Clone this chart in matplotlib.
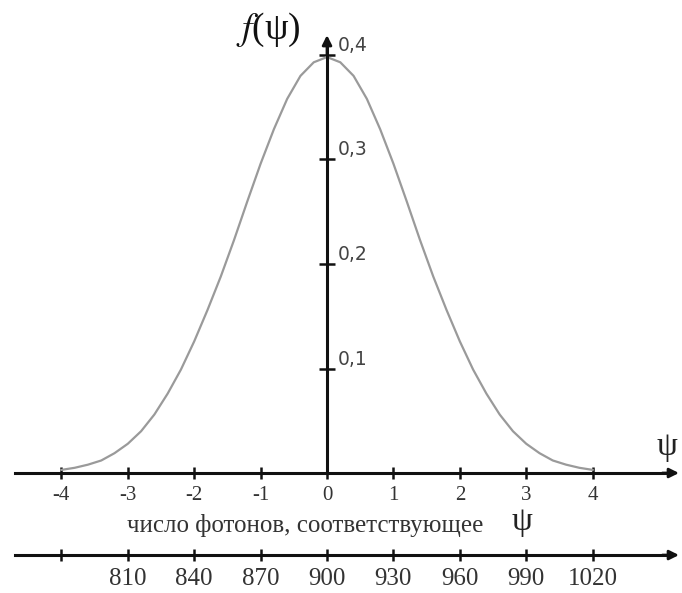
import matplotlib
matplotlib.use("Agg")
import matplotlib.pyplot as plt
from matplotlib.ticker import FixedLocator, FuncFormatter

# ---- data ----
psi = [-4.0, -3.8, -3.6, -3.4, -3.2, -3.0, -2.8, -2.6, -2.4, -2.2, -2.0,
       -1.8, -1.6, -1.4, -1.2, -1.0, -0.8, -0.6, -0.4, -0.2, 0.0,
       0.2, 0.4, 0.6, 0.8, 1.0, 1.2, 1.4, 1.6, 1.8, 2.0,
       2.2, 2.4, 2.6, 2.8, 3.0, 3.2, 3.4, 3.6, 3.8, 4.0]
f_psi = [0.003, 0.005, 0.008, 0.012, 0.019, 0.028, 0.040, 0.056, 0.076, 0.099, 0.126,
         0.156, 0.188, 0.223, 0.260, 0.296, 0.329, 0.358, 0.380, 0.393, 0.398,
         0.393, 0.380, 0.358, 0.329, 0.296, 0.260, 0.223, 0.188, 0.156, 0.126,
         0.099, 0.076, 0.056, 0.040, 0.028, 0.019, 0.012, 0.008, 0.005, 0.003]
x_ticks = [-4, -3, -2, -1, 0, 1, 2, 3, 4]
y_ticks = [0.1, 0.2, 0.3, 0.4]
photon_ticks = [780, 810, 840, 870, 900, 930, 960, 990, 1020]
photon_labels = ["", "810", "840", "870", "900", "930", "960", "990", "1020"]
caption = "число фотонов, соответствующее"

plt.rcParams['mathtext.fontset'] = 'stix'
serif = ['Liberation Serif', 'DejaVu Serif']

fig = plt.figure(figsize=(6.82, 5.93), dpi=100)
ax = fig.add_axes([0, 0, 1, 1])
ax.set_xlim(-4.925, 5.346)
ax.set_ylim(-0.1148, 0.4526)

ax.plot(psi, f_psi, color='#9a9a9a', lw=1.6, zorder=2)

# main axes via spines
for s in ['top', 'left']:
    ax.spines[s].set_visible(False)
ax.spines['bottom'].set_position(('data', 0))
ax.spines['right'].set_position(('data', 0))
ax.spines['bottom'].set_bounds(-4.70, 5.20)
ax.spines['right'].set_bounds(0, 0.41)
for s in ['bottom', 'right']:
    ax.spines[s].set_linewidth(2.2)
    ax.spines[s].set_color('#111111')
    ax.spines[s].set_zorder(3)

ax.xaxis.set_major_locator(FixedLocator(x_ticks))
ax.xaxis.set_major_formatter(FuncFormatter(lambda v, p: f"{v:g}"))
ax.tick_params(axis='x', direction='inout', length=9, width=1.8,
               color='#111111', labelsize=15, labelcolor='#333333', pad=5)
for lab in ax.get_xticklabels():
    lab.set_fontfamily(serif)

ax.yaxis.set_ticks_position('right')
ax.yaxis.set_major_locator(FixedLocator(y_ticks))
ax.yaxis.set_major_formatter(FuncFormatter(lambda v, p: f"{v:.1f}".replace('.', ',')))
ax.tick_params(axis='y', direction='inout', length=12, width=1.8,
               color='#111111', labelsize=13.5, labelcolor='#444444', pad=2)
for lab in ax.get_yticklabels():
    lab.set_va('bottom')

# arrowheads
ax.annotate('', xy=(5.30, 0), xytext=(5.05, 0),
            arrowprops=dict(arrowstyle='-|>', lw=2, color='#111111',
                            mutation_scale=14, shrinkA=0, shrinkB=0))
ax.annotate('', xy=(0, 0.419), xytext=(0, 0.400),
            arrowprops=dict(arrowstyle='-|>', lw=2, color='#111111',
                            mutation_scale=14, shrinkA=0, shrinkB=0))

# lower photon-count axis
sec = ax.secondary_xaxis(38 / 593, functions=(lambda x: 900 + 30 * x,
                                               lambda n: (n - 900) / 30))
sec.spines['bottom'].set_linewidth(2.2)
sec.spines['bottom'].set_color('#111111')
sec.spines['bottom'].set_bounds(759, 1056)
sec.xaxis.set_major_locator(FixedLocator(photon_ticks))
sec.xaxis.set_major_formatter(FuncFormatter(
    lambda v, p: photon_labels[photon_ticks.index(int(round(v)))]
    if int(round(v)) in photon_ticks else ""))
sec.tick_params(axis='x', direction='inout', length=9, width=1.8,
                color='#111111', labelsize=18, labelcolor='#333333', pad=5)
for lab in sec.get_xticklabels():
    lab.set_fontfamily(serif)
ax.annotate('', xy=(5.30, -0.0785), xytext=(5.05, -0.0785),
            arrowprops=dict(arrowstyle='-|>', lw=2, color='#111111',
                            mutation_scale=14, shrinkA=0, shrinkB=0))

# texts
ax.text(-0.33, -0.0505, caption, fontsize=18, family=serif, color='#333333',
        ha='center', va='center')
ax.text(2.94, -0.047, "ψ", fontsize=24, family=serif, color='#222222',
        ha='center', va='center')
ax.text(5.12, 0.025, "ψ", fontsize=24, family=serif, color='#222222',
        ha='center', va='center')
ax.text(-0.89, 0.424, r"$f$(ψ)", fontsize=27, family=serif, color='#111111',
        ha='center', va='center')

fig.savefig("out.png", dpi=100)
